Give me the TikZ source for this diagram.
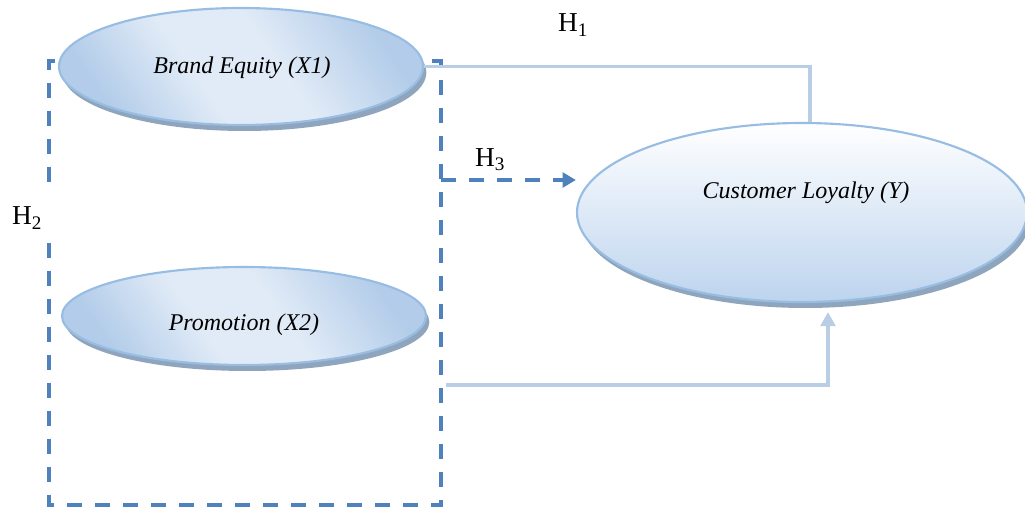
\documentclass[tikz,border=0pt]{standalone}
\usepackage{fontspec}
\setmainfont{Liberation Serif}
\usetikzlibrary{shapes.geometric,arrows.meta,calc}

\definecolor{boxblue}{HTML}{4F81BD}
\definecolor{linkblue}{HTML}{B9CDE5}
\definecolor{ovalrim}{HTML}{98BDE3}
\definecolor{ovalshadow}{HTML}{8FA5BD}
\definecolor{ovalD}{HTML}{B2CCE9}
\definecolor{ovalL}{HTML}{E1EBF7}
\definecolor{loyB}{HTML}{BDD4EE}

% diagonal light band across the predictor ovals
\pgfdeclarehorizontalshading{ovalband}{100bp}{%
  color(0bp)=(ovalD); color(25bp)=(ovalD); color(42bp)=(ovalL);
  color(56bp)=(ovalL); color(75bp)=(ovalD); color(100bp)=(ovalD)}

\tikzset{
  oval/.style={ellipse, inner sep=0pt, draw=ovalrim, line width=1.6pt,
    preaction={fill=ovalshadow, transform canvas={shift={(2.5pt,-4.5pt)}}}},
  predictor/.style={oval, shading=ovalband, shading angle=35},
  outcome/.style={oval, top color=white, bottom color=loyB},
  ovaltext/.style={font=\itshape\fontsize{18pt}{20pt}\selectfont, inner sep=0pt},
  hyp/.style={font=\fontsize{20.5pt}{22pt}\selectfont, inner sep=0pt},
  dbox/.style={draw=boxblue, line width=3pt, dash pattern=on 11pt off 10pt},
  link/.style={draw=linkblue, line width=2.5pt},
}

\begin{document}
\begin{tikzpicture}[x=0.75pt, y=-0.75pt]
\useasboundingbox (0,0) rectangle (1025,509);

% dashed frame round the two predictors (H2)
\coordinate (fl1) at (49,182);
\coordinate (ftl) at (49,61);
\coordinate (ftr) at (441,61);
\coordinate (fbr) at (441,505);
\coordinate (fbl) at (49,505);
\coordinate (fl2) at (49,241);
\draw[dbox] (fl1) -- (ftl) -- (ftr) -- (fbr) -- (fbl) -- (fl2);

% ovals
\node[predictor, minimum width=273pt, minimum height=87.75pt] (be) at (241,66.5) {};
\node[predictor, minimum width=273pt, minimum height=73.5pt] (pr) at (244,316) {};
\node[outcome, minimum width=337.5pt, minimum height=134.25pt] (cl) at (802,212.5) {};

\node[ovaltext] (beT) at (242,68) {Brand Equity (X1)};
\node[ovaltext] (prT) at (244,325) {Promotion (X2)};
\node[ovaltext] (clT) at (806,193) {Customer Loyalty (Y)};

% H1: brand equity to loyalty
\coordinate (h1c) at (810,66.5);
\draw[link] (be.east) -- (h1c) -- (h1c |- cl.north);

% H3: joint effect, dashed arrow from the frame
\coordinate (h3s) at (441,180);
\draw[dbox, -{Triangle[length=10pt, width=11pt]}] (h3s) -- (h3s -| cl.west);

% promotion to loyalty
\coordinate (p0) at (446,385);
\draw[link, -{Triangle[length=10.5pt, width=11pt]}] (p0) -| ($(cl.south)+(26,9)$);

% hypothesis labels
\node[hyp] (H1) at (573,25) {H\textsubscript{1}};
\node[hyp] (H2) at (27,218) {H\textsubscript{2}};
\node[hyp] (H3) at (490,160) {H\textsubscript{3}};
\end{tikzpicture}
\end{document}
